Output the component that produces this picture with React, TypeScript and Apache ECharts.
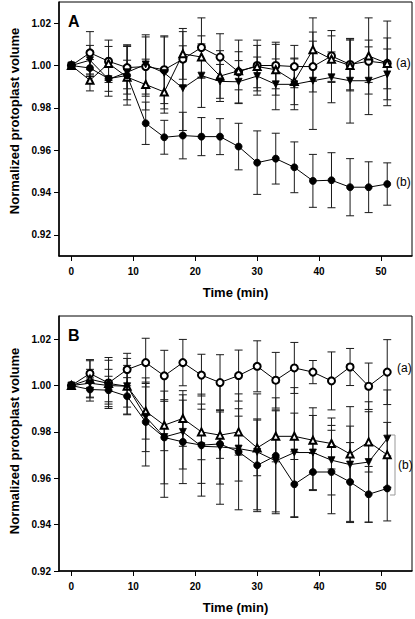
import React, { useEffect, useRef } from "react";
import * as echarts from "echarts";

const times = [0, 3, 6, 9, 12, 15, 18, 21, 24, 27, 30, 33, 36, 39, 42, 45, 48, 51];
const xTicks = [0, 10, 20, 30, 40, 50];
const yTicks = [0.92, 0.94, 0.96, 0.98, 1.0, 1.02];

// Panel A
const aOpenCircle = [1.0, 1.006, 1.002, 0.999, 0.9995, 0.998, 1.003, 1.0085, 1.004, 0.997, 1.0, 1.0, 0.9995, 0.9995, 1.0045, 1.0005, 1.002, 1.001];
const aOpenCircleErr = [0, 0.01, 0.01, 0.01, 0.014, 0.016, 0.013, 0.014, 0.011, 0.015, 0.012, 0.011, 0.01, 0.012, 0.012, 0.012, 0.01, 0.012];
const aOpenTri = [1.0, 0.993, 1.001, 0.9945, 0.991, 0.9875, 1.0055, 1.004, 0.995, 0.9975, 0.9995, 0.998, 0.9925, 1.0075, 1.003, 1.0, 1.0045, 1.001];
const aOpenTriErr = [0, 0.005, 0.008, 0.008, 0.012, 0.01, 0.012, 0.01, 0.012, 0.009, 0.01, 0.012, 0.011, 0.015, 0.011, 0.012, 0.018, 0.02];
const aDownTri = [1.0, 1.0025, 0.9935, 0.9968, 1.0005, 0.9965, 0.9893, 0.9952, 0.9925, 0.9923, 0.995, 0.9911, 0.9911, 0.9928, 0.9944, 0.9928, 0.9928, 0.9958];
const aDownTriErr = [0, 0.007, 0.008, 0.013, 0.014, 0.017, 0.02, 0.015, 0.008, 0.01, 0.009, 0.012, 0.012, 0.023, 0.012, 0.02, 0.016, 0.012];
const aFilledCircle = [1.0, 0.9988, 0.9938, 0.9953, 0.9727, 0.9661, 0.9669, 0.9664, 0.9664, 0.9617, 0.9541, 0.956, 0.9519, 0.9455, 0.9458, 0.9425, 0.9425, 0.944];
const aFilledCircleErr = [0, 0.004, 0.006, 0.014, 0.01, 0.008, 0.011, 0.009, 0.0085, 0.011, 0.015, 0.012, 0.012, 0.0125, 0.013, 0.0135, 0.012, 0.01];

// Panel B
const bOpenCircle = [1.0, 1.0052, 1.0011, 1.0069, 1.0099, 1.0042, 1.0099, 1.0045, 1.0013, 1.0043, 1.0083, 1.0023, 1.0076, 1.0058, 1.002, 1.008, 0.9997, 1.0058];
const bOpenCircleErr = [0, 0.006, 0.011, 0.007, 0.0105, 0.011, 0.01, 0.009, 0.012, 0.011, 0.011, 0.012, 0.011, 0.005, 0.0125, 0.008, 0.01, 0.014];
const bOpenTri = [1.0, 1.0027, 1.0009, 0.9997, 0.9889, 0.9829, 0.9858, 0.98, 0.9786, 0.98, 0.9731, 0.9781, 0.9781, 0.9764, 0.975, 0.9705, 0.9757, 0.9701];
const bOpenTriErr = [0, 0.008, 0.01, 0.012, 0.012, 0.011, 0.012, 0.012, 0.01, 0.01, 0.012, 0.011, 0.01, 0.014, 0.011, 0.012, 0.013, 0.014];
const bDownTri = [1.0, 1.001, 1.0, 0.9997, 0.9865, 0.9778, 0.98, 0.9738, 0.9735, 0.9728, 0.9714, 0.9675, 0.9711, 0.9711, 0.9678, 0.9659, 0.967, 0.9771];
const bDownTriErr = [0, 0.006, 0.007, 0.009, 0.015, 0.026, 0.016, 0.016, 0.016, 0.014, 0.025, 0.022, 0.028, 0.016, 0.015, 0.025, 0.026, 0.021];
const bFilledCircle = [1.0, 0.9983, 0.998, 0.9954, 0.9843, 0.9776, 0.9757, 0.9743, 0.9748, 0.9714, 0.9656, 0.9697, 0.9574, 0.9627, 0.9627, 0.9584, 0.9531, 0.9556];
const bFilledCircleErr = [0, 0.005, 0.006, 0.008, 0.019, 0.02, 0.018, 0.022, 0.026, 0.025, 0.02, 0.025, 0.014, 0.008, 0.018, 0.017, 0.012, 0.014];

const FONT = "'Liberation Sans', Arial, Helvetica, sans-serif";

type Spec = { vals: number[]; errs: number[]; symbol: string; rotate?: number; size: number };

const errRender = (_params: any, api: any) => {
  const x = api.value(0);
  const lo = api.value(1);
  const hi = api.value(2);
  if (hi - lo <= 0) return { type: "group", children: [] };
  const pLo = api.coord([x, lo]);
  const pHi = api.coord([x, hi]);
  const w = 4;
  const style = { stroke: "#1a1a1a", lineWidth: 1 };
  return {
    type: "group",
    children: [
      { type: "line", shape: { x1: pLo[0], y1: pLo[1], x2: pHi[0], y2: pHi[1] }, style },
      { type: "line", shape: { x1: pLo[0] - w, y1: pLo[1], x2: pLo[0] + w, y2: pLo[1] }, style },
      { type: "line", shape: { x1: pHi[0] - w, y1: pHi[1], x2: pHi[0] + w, y2: pHi[1] }, style },
    ],
  };
};

function panelSeries(specs: Spec[], gi: number) {
  const out: any[] = [];
  specs.forEach((s) => {
    out.push({
      type: "custom",
      xAxisIndex: gi,
      yAxisIndex: gi,
      renderItem: errRender,
      z: 1,
      silent: true,
      data: times.map((t, i) => [t, s.vals[i] - s.errs[i], s.vals[i] + s.errs[i]]),
    });
  });
  specs.forEach((s) => {
    out.push({
      type: "line",
      xAxisIndex: gi,
      yAxisIndex: gi,
      z: 3,
      symbol: s.symbol,
      symbolRotate: s.rotate || 0,
      symbolSize: s.size,
      showAllSymbol: true,
      lineStyle: { color: "#000", width: 1 },
      itemStyle: { color: "#000", borderColor: "#000", borderWidth: 0.8 },
      data: times.map((t, i) => [t, s.vals[i]]),
    });
  });
  return out;
}

function xAxisOf(gi: number) {
  return {
    type: "value",
    gridIndex: gi,
    min: -2,
    max: 55,
    name: "Time (min)",
    nameLocation: "middle",
    nameGap: 30,
    nameTextStyle: { fontFamily: FONT, fontWeight: "bold", fontSize: 13, color: "#000" },
    axisLine: { show: true, onZero: false, lineStyle: { color: "#000", width: 1.5 } },
    axisTick: { show: true, length: 5, inside: false, customValues: xTicks, lineStyle: { color: "#000", width: 1 } },
    axisLabel: { customValues: xTicks, margin: 10, fontFamily: FONT, fontWeight: "bold", fontSize: 10, color: "#000" },
    splitLine: { show: false },
  };
}

function yAxisOf(gi: number, min: number) {
  return {
    type: "value",
    gridIndex: gi,
    min,
    max: 1.03,
    axisLine: { show: true, onZero: false, lineStyle: { color: "#000", width: 1.5 } },
    axisTick: { show: true, length: 5, inside: false, customValues: yTicks, lineStyle: { color: "#000", width: 1 } },
    axisLabel: {
      customValues: yTicks,
      margin: 8,
      fontFamily: FONT,
      fontWeight: "bold",
      fontSize: 10,
      color: "#000",
      formatter: (v: number) => v.toFixed(2),
    },
    splitLine: { show: false },
  };
}

function txt(text: string, x: number, y: number, font: string, extra: any = {}) {
  return {
    type: "text",
    x,
    y,
    ...extra,
    style: { text, font, fill: "#000", align: extra.align || "left", verticalAlign: "middle" },
  };
}

export default function App() {
  const ref = useRef<HTMLDivElement>(null);
  useEffect(() => {
    if (!ref.current) return;
    const chart = echarts.init(ref.current, undefined, { renderer: "svg" });
    const specsA: Spec[] = [
      { vals: aOpenCircle, errs: aOpenCircleErr, symbol: "emptyCircle", size: 7 },
      { vals: aOpenTri, errs: aOpenTriErr, symbol: "emptyTriangle", size: 7 },
      { vals: aDownTri, errs: aDownTriErr, symbol: "triangle", rotate: 180, size: 7 },
      { vals: aFilledCircle, errs: aFilledCircleErr, symbol: "circle", size: 7 },
    ];
    const specsB: Spec[] = [
      { vals: bOpenCircle, errs: bOpenCircleErr, symbol: "emptyCircle", size: 7 },
      { vals: bOpenTri, errs: bOpenTriErr, symbol: "emptyTriangle", size: 7 },
      { vals: bDownTri, errs: bDownTriErr, symbol: "triangle", rotate: 180, size: 7 },
      { vals: bFilledCircle, errs: bFilledCircleErr, symbol: "circle", size: 7 },
    ];
    const yTitle = "Normalized protoplast volume";
    chart.setOption({
      animation: false,
      backgroundColor: "#fff",
      grid: [
        { left: 59, top: 2, width: 353, height: 254, show: true, borderColor: "#000", borderWidth: 1 },
        { left: 59, top: 316, width: 353, height: 255, show: true, borderColor: "#000", borderWidth: 1 },
      ],
      xAxis: [xAxisOf(0), xAxisOf(1)],
      yAxis: [yAxisOf(0, 0.91), yAxisOf(1, 0.92)],
      series: [...panelSeries(specsA, 0), ...panelSeries(specsB, 1)],
      graphic: [
        txt("A", 68, 21, `bold 16px ${FONT}`),
        txt("B", 68, 335, `bold 16px ${FONT}`),
        txt("(a)", 396, 63, `12px ${FONT}`),
        txt("(b)", 396, 182, `12px ${FONT}`),
        txt("(a)", 397, 368, `12px ${FONT}`),
        txt("(b)", 398, 465, `12px ${FONT}`),
        { type: "line", shape: { x1: 395, y1: 435, x2: 395, y2: 495 }, style: { stroke: "#999", lineWidth: 1 } },
        { type: "line", shape: { x1: 390, y1: 435, x2: 395, y2: 435 }, style: { stroke: "#999", lineWidth: 1 } },
        { type: "line", shape: { x1: 390, y1: 495, x2: 395, y2: 495 }, style: { stroke: "#999", lineWidth: 1 } },
        txt(yTitle, 14, 121, `bold 13px ${FONT}`, { rotation: Math.PI / 2, align: "center" }),
        txt(yTitle, 14, 441, `bold 13px ${FONT}`, { rotation: Math.PI / 2, align: "center" }),
      ],
    });
    return () => chart.dispose();
  }, []);
  return (
    <div
      ref={ref}
      style={{ position: "fixed", left: 0, top: 0, width: 415, height: 619, background: "#fff" }}
    />
  );
}
